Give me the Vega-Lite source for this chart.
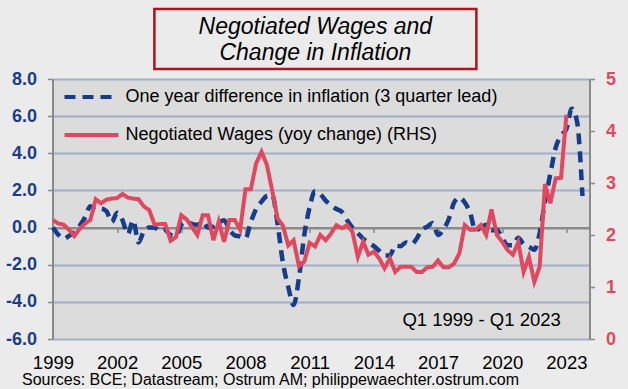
{
  "$schema": "https://vega.github.io/schema/vega-lite/v6.json",
  "background": "#ebebeb",
  "padding": {"left": 5, "top": 7, "right": 15, "bottom": 12},
  "config": {
    "font": "Liberation Sans",
    "view": {"stroke": null},
    "locale": {"number": {"decimal": ".", "thousands": ",", "grouping": [3], "currency": ["$", ""], "minus": "-"}}
  },
  "center": true,
  "spacing": -3,
  "resolve": {
    "scale": {"color": "independent", "strokeDash": "independent"},
    "legend": {"color": "independent", "strokeDash": "independent"}
  },
  "vconcat": [
    {
      "width": 322,
      "height": 60,
      "title": {"text": " ", "orient": "right", "fontSize": 2, "offset": 34},
      "view": {"stroke": "#b0121f", "strokeWidth": 2.5, "fill": null},
      "data": {"values": [{"title": "Negotiated Wages and\nChange in Inflation"}]},
      "mark": {"type": "text", "fontStyle": "italic", "fontSize": 23, "lineBreak": "\n", "lineHeight": 26, "color": "black", "baseline": "middle", "align": "center", "dy": -12.5},
      "encoding": {"text": {"field": "title"}}
    },
    {
      "width": 537,
      "height": 260,
      "view": {"fill": "#dcdcdc", "stroke": null},
      "data": {"values": [
        {"t": 1999, "d": 0.0, "w": 2.29},
        {"t": 1999.25, "d": -0.38, "w": 2.22},
        {"t": 1999.5, "d": -0.6, "w": 2.2},
        {"t": 1999.75, "d": -0.45, "w": 2.1},
        {"t": 2000, "d": -0.25, "w": 1.98},
        {"t": 2000.25, "d": 0.1, "w": 2.12},
        {"t": 2000.5, "d": 0.55, "w": 2.22},
        {"t": 2000.75, "d": 1.15, "w": 2.29},
        {"t": 2001, "d": 0.95, "w": 2.69},
        {"t": 2001.25, "d": 1.02, "w": 2.61},
        {"t": 2001.5, "d": 0.88, "w": 2.68},
        {"t": 2001.75, "d": 0.3, "w": 2.7},
        {"t": 2002, "d": 0.8, "w": 2.71},
        {"t": 2002.25, "d": 0.4, "w": 2.79},
        {"t": 2002.5, "d": -0.35, "w": 2.72},
        {"t": 2002.75, "d": 0.4, "w": 2.7},
        {"t": 2003, "d": -0.8, "w": 2.69},
        {"t": 2003.25, "d": -0.2, "w": 2.55},
        {"t": 2003.5, "d": 0.0, "w": 2.48},
        {"t": 2003.75, "d": 0.0, "w": 2.2},
        {"t": 2004, "d": -0.2, "w": 2.21},
        {"t": 2004.25, "d": -0.13, "w": 2.21},
        {"t": 2004.5, "d": -0.4, "w": 1.89},
        {"t": 2004.75, "d": -0.45, "w": 1.96},
        {"t": 2005, "d": 0.15, "w": 2.38},
        {"t": 2005.25, "d": 0.3, "w": 2.3},
        {"t": 2005.5, "d": 0.2, "w": 2.15},
        {"t": 2005.75, "d": 0.15, "w": 2.0},
        {"t": 2006, "d": 0.3, "w": 2.38},
        {"t": 2006.25, "d": 0.0, "w": 2.38},
        {"t": 2006.5, "d": 0.05, "w": 1.9},
        {"t": 2006.75, "d": 0.25, "w": 2.26},
        {"t": 2007, "d": 0.4, "w": 1.87},
        {"t": 2007.25, "d": -0.1, "w": 2.29},
        {"t": 2007.5, "d": -0.42, "w": 2.29},
        {"t": 2007.75, "d": -0.48, "w": 2.1},
        {"t": 2008, "d": -0.58, "w": 2.88},
        {"t": 2008.25, "d": 0.3, "w": 2.88},
        {"t": 2008.5, "d": 1.0, "w": 3.38},
        {"t": 2008.75, "d": 1.4, "w": 3.6},
        {"t": 2009, "d": 1.7, "w": 3.35},
        {"t": 2009.25, "d": 1.75, "w": 2.85},
        {"t": 2009.5, "d": 0.2, "w": 2.32},
        {"t": 2009.75, "d": -1.9, "w": 2.18},
        {"t": 2010, "d": -3.2, "w": 1.8},
        {"t": 2010.25, "d": -4.17, "w": 1.9},
        {"t": 2010.5, "d": -2.7, "w": 1.4},
        {"t": 2010.75, "d": -0.4, "w": 1.49},
        {"t": 2011, "d": 1.1, "w": 1.85},
        {"t": 2011.25, "d": 1.95, "w": 1.78},
        {"t": 2011.5, "d": 1.8, "w": 2.0},
        {"t": 2011.75, "d": 1.45, "w": 1.9},
        {"t": 2012, "d": 1.2, "w": 2.03},
        {"t": 2012.25, "d": 1.0, "w": 2.19},
        {"t": 2012.5, "d": 0.85, "w": 2.13},
        {"t": 2012.75, "d": 0.4, "w": 2.19},
        {"t": 2013, "d": 0.0, "w": 2.06},
        {"t": 2013.25, "d": -0.3, "w": 1.58},
        {"t": 2013.5, "d": -0.6, "w": 1.87},
        {"t": 2013.75, "d": -0.8, "w": 1.62},
        {"t": 2014, "d": -1.0, "w": 1.68},
        {"t": 2014.25, "d": -1.25, "w": 1.55},
        {"t": 2014.5, "d": -1.5, "w": 1.36},
        {"t": 2014.75, "d": -1.5, "w": 1.55},
        {"t": 2015, "d": -0.97, "w": 1.29},
        {"t": 2015.25, "d": -1.0, "w": 1.39},
        {"t": 2015.5, "d": -0.8, "w": 1.39},
        {"t": 2015.75, "d": -0.9, "w": 1.39},
        {"t": 2016, "d": -0.6, "w": 1.29},
        {"t": 2016.25, "d": -0.1, "w": 1.29},
        {"t": 2016.5, "d": 0.05, "w": 1.38},
        {"t": 2016.75, "d": 0.25, "w": 1.39},
        {"t": 2017, "d": -0.4, "w": 1.51},
        {"t": 2017.25, "d": -0.1, "w": 1.38},
        {"t": 2017.5, "d": 0.45, "w": 1.38},
        {"t": 2017.75, "d": 1.35, "w": 1.45},
        {"t": 2018, "d": 1.62, "w": 1.65},
        {"t": 2018.25, "d": 1.35, "w": 2.19},
        {"t": 2018.5, "d": 0.8, "w": 2.1},
        {"t": 2018.75, "d": -0.15, "w": 2.1},
        {"t": 2019, "d": 0.0, "w": 2.19},
        {"t": 2019.25, "d": 0.15, "w": 2.0},
        {"t": 2019.5, "d": -0.15, "w": 2.49},
        {"t": 2019.75, "d": -0.13, "w": 2.0},
        {"t": 2020, "d": -0.55, "w": 1.87},
        {"t": 2020.25, "d": -0.95, "w": 1.71},
        {"t": 2020.5, "d": -0.95, "w": 1.62},
        {"t": 2020.75, "d": -0.55, "w": 1.86},
        {"t": 2021, "d": -0.9, "w": 1.29},
        {"t": 2021.25, "d": -1.03, "w": 1.58},
        {"t": 2021.5, "d": -1.2, "w": 1.1},
        {"t": 2021.75, "d": -0.3, "w": 1.39},
        {"t": 2022, "d": 1.4, "w": 2.98},
        {"t": 2022.25, "d": 2.9, "w": 2.61},
        {"t": 2022.5, "d": 4.3, "w": 3.09},
        {"t": 2022.75, "d": 4.95, "w": 3.1},
        {"t": 2023, "d": 5.3, "w": 4.31},
        {"t": 2023.25, "d": 6.4},
        {"t": 2023.5, "d": 5.7},
        {"t": 2023.75, "d": 1.7}
      ]},
      "layer": [
        {
          "mark": {"type": "line", "interpolate": "monotone", "strokeWidth": 4.5},
          "encoding": {
            "x": {
              "field": "t", "type": "quantitative",
              "scale": {"domain": [1998.98, 2024.08], "nice": false, "zero": false},
              "axis": {
                "orient": "bottom", "values": [1999, 2002, 2005, 2008, 2011, 2014, 2017, 2020, 2023],
                "format": "d", "domain": false, "ticks": false, "tickSize": 0, "grid": false,
                "labelFlush": false, "labelOverlap": false,
                "labelFontSize": 18.5, "labelColor": "black", "labelPadding": 14,
                "title": "Sources: BCE; Datastream;  Ostrum  AM; philippewaechter.ostrum.com",
                "titleFontSize": 16, "titleFontWeight": "normal", "titleColor": "black",
                "titleX": -31, "titleY": 45, "titleAlign": "left", "titleBaseline": "alphabetic"
              }
            },
            "y": {
              "field": "d", "type": "quantitative",
              "scale": {"domain": [-6, 8], "nice": false, "zero": false},
              "axis": {
                "orient": "left", "values": [-6, -4, -2, 0, 2, 4, 6, 8],
                "format": ".1f",
                "labelOverlap": false, "labelFlush": false,
                "title": null, "labelFontSize": 18, "labelFontWeight": "bold", "labelColor": "#1a3c8c",
                "labelPadding": 11, "tickSize": 5, "tickColor": "#8a8a8a", "tickWidth": 1.5,
                "domainColor": "#8a8a8a", "domainWidth": 2,
                "grid": true,
                "gridColor": {"condition": {"test": "datum.value === 0", "value": "#8a8a8a"}, "value": "#a2afca"},
                "gridWidth": 1.8
              }
            },
            "color": {
              "datum": "One year difference in inflation (3 quarter lead)", "type": "nominal",
              "scale": {"domain": ["One year difference in inflation (3 quarter lead)", "Negotiated Wages (yoy change) (RHS)"], "range": ["#163c8a", "#e1485f"]},
              "legend": {"title": null, "orient": "none", "legendX": 10, "legendY": -11, "symbolType": "stroke", "symbolSize": 2916, "symbolStrokeWidth": 4, "labelFontSize": 18, "labelColor": "black", "labelOffset": 5, "labelLimit": 600, "rowPadding": -28, "padding": 0}
            },
            "strokeDash": {
              "datum": "One year difference in inflation (3 quarter lead)", "type": "nominal",
              "scale": {"domain": ["One year difference in inflation (3 quarter lead)", "Negotiated Wages (yoy change) (RHS)"], "range": [[11, 7], [1, 0]]},
              "legend": {"title": null, "orient": "none", "legendX": 10, "legendY": -11, "symbolType": "stroke", "symbolSize": 2916, "symbolStrokeWidth": 4, "labelFontSize": 18, "labelColor": "black", "labelOffset": 5, "labelLimit": 600, "rowPadding": -28, "padding": 0}
            }
          }
        },
        {
          "layer": [
            {
              "mark": {"type": "line", "strokeWidth": 4},
              "encoding": {
                "x": {
                  "field": "t", "type": "quantitative",
                  "scale": {"domain": [1998.98, 2024.08], "nice": false, "zero": false},
                  "axis": {
                    "orient": "bottom", "offset": -111.4, "values": [1999, 2002, 2005, 2008, 2011, 2014, 2017, 2020, 2023],
                    "labels": false, "title": null, "grid": false,
                    "domainColor": "#8a8a8a", "domainWidth": 2, "tickColor": "#8a8a8a", "tickWidth": 1.5, "tickSize": 5
                  }
                },
                "y": {
                  "field": "w", "type": "quantitative",
                  "scale": {"domain": [0, 5], "nice": false, "zero": false},
                  "axis": {
                    "orient": "right", "values": [0, 1, 2, 3, 4, 5], "format": "d", "labelOverlap": false, "labelFlush": false,
                    "title": null, "labelFontSize": 18, "labelFontWeight": "bold", "labelColor": "#e1485f",
                    "labelPadding": 11, "tickSize": 5, "tickColor": "#8a8a8a", "tickWidth": 1.5,
                    "domainColor": "#8a8a8a", "domainWidth": 2, "grid": false
                  }
                },
                "color": {"datum": "Negotiated Wages (yoy change) (RHS)", "type": "nominal"},
                "strokeDash": {"datum": "Negotiated Wages (yoy change) (RHS)", "type": "nominal"}
              }
            },
            {
              "data": {"values": [{"note": "Q1 1999 - Q1 2023"}]},
              "mark": {"type": "text", "fontSize": 18.5, "color": "black", "align": "right", "baseline": "middle"},
              "encoding": {
                "x": {"datum": 2022.74, "type": "quantitative"},
                "y": {"datum": 0.36, "type": "quantitative"},
                "text": {"field": "note"}
              }
            }
          ]
        }
      ],
      "resolve": {"scale": {"y": "independent", "x": "independent"}}
    }
  ]
}
